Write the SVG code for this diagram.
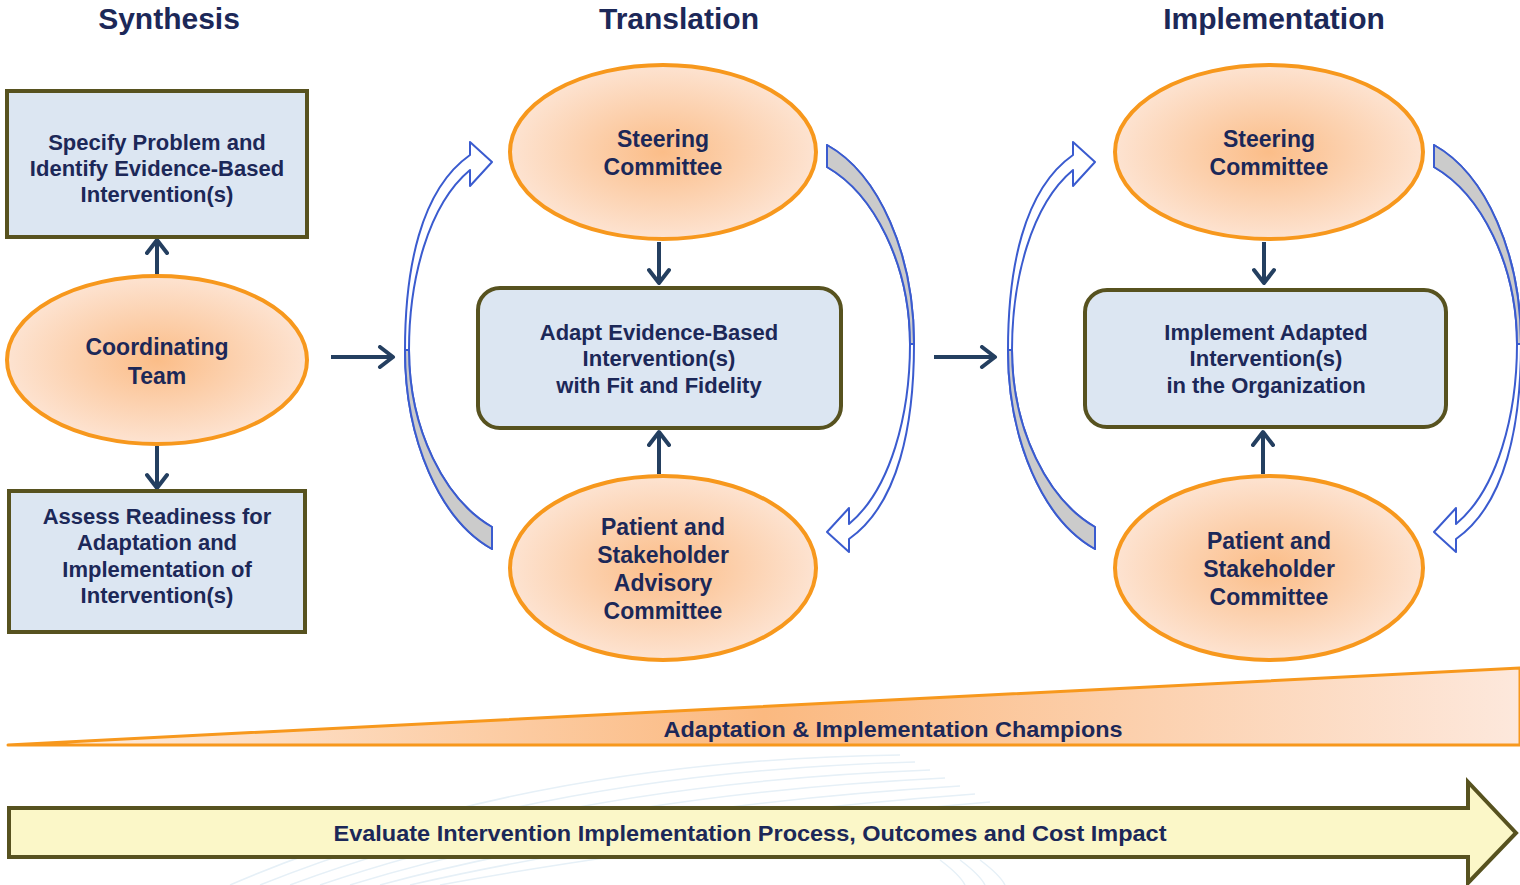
<svg xmlns="http://www.w3.org/2000/svg" width="1520" height="885" viewBox="0 0 1520 885">
<style>
text{font-family:"Liberation Sans",Arial,sans-serif;font-weight:bold;fill:#1c2858;text-anchor:middle}
.title{font-size:30px}
.bt{font-size:22px}
.et{font-size:23px}
.box{fill:#dce6f2;stroke:#57521f;stroke-width:4}
.ell{fill:url(#eg);stroke:#f7981d;stroke-width:4}
.conn{stroke:#243f60;stroke-width:4;fill:none;marker-end:url(#chev)}
.cb{fill:#ffffff;stroke:#3a5bcf;stroke-width:2;stroke-linejoin:round}
.cg{fill:#cbcbcb;stroke:#3a5bcf;stroke-width:2;stroke-linejoin:round}
.swoosh{fill:none;stroke:#e6f0f7;stroke-width:1.5}
</style>
<defs>
<radialGradient id="eg" cx="0.5" cy="0.5" r="0.5">
<stop offset="0" stop-color="#fbbd88"/>
<stop offset="1" stop-color="#fde3d1"/>
</radialGradient>
<linearGradient id="wg" x1="0" y1="0" x2="1" y2="0">
<stop offset="0" stop-color="#fef0e6"/>
<stop offset="0.5" stop-color="#fbb980"/>
<stop offset="1" stop-color="#fde8dc"/>
</linearGradient>
<marker id="chev" viewBox="0 0 20 24" refX="17" refY="12" markerWidth="20" markerHeight="24" markerUnits="userSpaceOnUse" orient="auto">
<path d="M4,2 L17,12 L4,22" fill="none" stroke="#243f60" stroke-width="4" stroke-linecap="round" stroke-linejoin="round"/>
</marker>
<g id="curvedArrow">
<path class="cb" d="M492,527 C445,500 409,430 409,350 C409,280 428,205 470,170 L470,186 L492,162 L470,142 L470,155 C420,190 405,270 405,350 C405,440 440,520 492,549 Z"/>
<path class="cg" d="M405,350 C405,440 440,520 492,549 L492,527 C445,500 409,430 409,350 Z"/>
</g>
</defs>

<g id="background">
<path class="swoosh" d="M230,885 Q520,760 900,755"/>
<path class="swoosh" d="M260,885 Q540,772 915,762"/>
<path class="swoosh" d="M290,885 Q560,784 930,770"/>
<path class="swoosh" d="M320,885 Q580,796 945,778"/>
<path class="swoosh" d="M350,885 Q600,808 960,786"/>
<path class="swoosh" d="M380,885 Q620,820 975,794"/>
<path class="swoosh" d="M410,885 Q640,832 990,802"/>
<path class="swoosh" d="M440,885 Q660,844 1005,810"/>
<path class="swoosh" d="M940,860 Q960,875 965,885"/>
<path class="swoosh" d="M960,860 Q980,875 985,885"/>
<path class="swoosh" d="M980,860 Q1000,875 1005,885"/>
</g>

<g id="titles">
<text class="title" x="169" y="29">Synthesis</text>
<text class="title" x="679" y="29">Translation</text>
<text class="title" x="1274" y="29">Implementation</text>
</g>

<g id="connectors">
<line class="conn" x1="157" y1="278" x2="157" y2="240"/>
<line class="conn" x1="157" y1="446" x2="157" y2="488"/>
<line class="conn" x1="331" y1="357" x2="393" y2="357"/>
<line class="conn" x1="934" y1="357" x2="995" y2="357"/>
<line class="conn" x1="659" y1="242" x2="659" y2="283"/>
<line class="conn" x1="659" y1="474" x2="659" y2="432"/>
<line class="conn" x1="1264" y1="242" x2="1264" y2="283"/>
<line class="conn" x1="1263" y1="474" x2="1263" y2="432"/>
<use href="#curvedArrow"/>
<use href="#curvedArrow" transform="rotate(180 659.5 347)"/>
<use href="#curvedArrow" transform="translate(603,0)"/>
<use href="#curvedArrow" transform="translate(607,0) rotate(180 659.5 347)"/>
</g>

<g id="specify">
<rect class="box" x="7" y="91" width="300" height="146"/>
<text class="bt" x="157" y="150">Specify Problem and</text>
<text class="bt" x="157" y="176">Identify Evidence-Based</text>
<text class="bt" x="157" y="202">Intervention(s)</text>
</g>

<g id="coordinating">
<ellipse class="ell" cx="157" cy="360" rx="150" ry="84"/>
<text class="et" x="157" y="355">Coordinating</text>
<text class="et" x="157" y="384">Team</text>
</g>

<g id="assess">
<rect class="box" x="9" y="491" width="296" height="141"/>
<text class="bt" x="157" y="524">Assess Readiness for</text>
<text class="bt" x="157" y="550">Adaptation and</text>
<text class="bt" x="157" y="577">Implementation of</text>
<text class="bt" x="157" y="603">Intervention(s)</text>
</g>

<g id="steering1">
<ellipse class="ell" cx="663" cy="152" rx="153" ry="87"/>
<text class="et" x="663" y="147">Steering</text>
<text class="et" x="663" y="175">Committee</text>
</g>

<g id="adapt">
<rect class="box" x="478" y="288" width="363" height="140" rx="22"/>
<text class="bt" x="659" y="340">Adapt Evidence-Based</text>
<text class="bt" x="659" y="366">Intervention(s)</text>
<text class="bt" x="659" y="393">with Fit and Fidelity</text>
</g>

<g id="patient1">
<ellipse class="ell" cx="663" cy="568" rx="153" ry="92"/>
<text class="et" x="663" y="535">Patient and</text>
<text class="et" x="663" y="563">Stakeholder</text>
<text class="et" x="663" y="591">Advisory</text>
<text class="et" x="663" y="619">Committee</text>
</g>

<g id="steering2">
<ellipse class="ell" cx="1269" cy="152" rx="154" ry="87"/>
<text class="et" x="1269" y="147">Steering</text>
<text class="et" x="1269" y="175">Committee</text>
</g>

<g id="implement">
<rect class="box" x="1085" y="290" width="361" height="137" rx="22"/>
<text class="bt" x="1266" y="340">Implement Adapted</text>
<text class="bt" x="1266" y="366">Intervention(s)</text>
<text class="bt" x="1266" y="393">in the Organization</text>
</g>

<g id="patient2">
<ellipse class="ell" cx="1269" cy="568" rx="154" ry="92"/>
<text class="et" x="1269" y="549">Patient and</text>
<text class="et" x="1269" y="577">Stakeholder</text>
<text class="et" x="1269" y="605">Committee</text>
</g>

<g id="champions">
<polygon points="8,745 1520,668 1520,745" fill="url(#wg)" stroke="#f7981d" stroke-width="3" stroke-linejoin="round"/>
<text x="893" y="737" font-size="22" textLength="459" lengthAdjust="spacingAndGlyphs">Adaptation &amp; Implementation Champions</text>
</g>

<g id="evaluate">
<polygon points="9,808 1468,808 1468,782 1516,833 1468,883 1468,857 9,857" fill="#fbf7c8" stroke="#57521f" stroke-width="4" stroke-linejoin="miter"/>
<text x="750" y="841" font-size="22" textLength="833" lengthAdjust="spacingAndGlyphs">Evaluate Intervention Implementation Process, Outcomes and Cost Impact</text>
</g>
</svg>
